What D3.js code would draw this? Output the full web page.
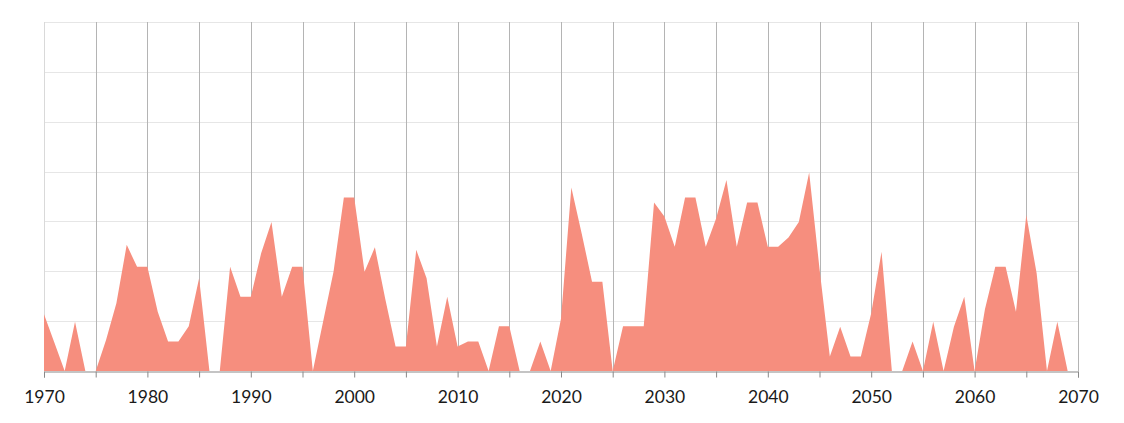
<!DOCTYPE html>
<html><head><meta charset="utf-8">
<script src="https://cdn.jsdelivr.net/npm/d3@7"></script>
<style>body{margin:0;background:#fff}svg{display:block}</style>
</head><body><svg id="c" width="1124" height="423"></svg>
<script>
const years = d3.range(1970, 2070);
const values = [
 1.14,0.57,0,0.99,0,0,0.62,1.36,2.53,2.09,
 2.09,1.19,0.59,0.59,0.90,1.86,0,0,2.09,1.49,
 1.49,2.36,2.99,1.49,2.09,2.09,0,1.0,1.99,3.48,
 3.48,1.99,2.48,1.45,0.49,0.49,2.43,1.86,0.49,1.49,
 0.49,0.59,0.59,0,0.9,0.9,0,0,0.59,0,
 1.05,3.68,2.76,1.79,1.79,0,0.9,0.9,0.9,3.38,
 3.10,2.49,3.48,3.48,2.49,3.06,3.83,2.49,3.38,3.38,
 2.49,2.49,2.68,2.99,3.98,2.05,0.29,0.89,0.29,0.29,
 1.16,2.39,0,0,0.59,0,0.99,0,0.89,1.49,
 0,1.24,2.09,2.09,1.19,3.13,1.96,0,0.99,0
];
const yTicks = [0,1,2,3,4,5,6,7];
const xMinorTicks = d3.range(1970, 2071, 5);

const svg = d3.select("#c");
const m = {l:44, r:46, t:22, b:52};
const W = 1124, H = 423;
const x = d3.scaleLinear().domain([1970, 2070]).range([m.l, W - m.r]);
const y = d3.scaleLinear().domain([0, 7]).range([H - m.b, m.t]);

// horizontal gridlines
svg.append("g").selectAll("line").data(yTicks.slice(1)).join("line")
  .attr("x1", x(1970)).attr("x2", x(2070))
  .attr("y1", d => Math.round(y(d)) + 0.5).attr("y2", d => Math.round(y(d)) + 0.5)
  .attr("stroke", "#e6e6e6").attr("stroke-width", 1);

// vertical gridlines
svg.append("g").selectAll("line").data(xMinorTicks).join("line")
  .attr("x1", d => Math.round(x(d)) + 0.5).attr("x2", d => Math.round(x(d)) + 0.5)
  .attr("y1", y(7)).attr("y2", y(0))
  .attr("stroke", d => d === 1970 ? "#d9d9d9" : "#b4b4b4").attr("stroke-width", 1);

// area
const area = d3.area()
  .x((d, i) => x(years[i]))
  .y0(y(0))
  .y1(d => y(d));
svg.append("path").datum(values)
  .attr("d", area)
  .attr("fill", "#f68e7e");

// x axis
const xAxis = d3.axisBottom(x).tickValues(xMinorTicks).tickSize(6)
  .tickFormat(d => d % 10 === 0 ? d : "");
const gx = svg.append("g").attr("transform", `translate(0,${Math.round(y(0)) + 0.5})`).call(xAxis);
gx.select(".domain").attr("stroke", "#898989");
gx.selectAll(".tick line").attr("stroke", "#898989");
gx.selectAll(".tick text")
  .attr("font-family", "Lato, 'Open Sans', sans-serif")
  .attr("font-size", 17.5).attr("fill", "#1a1a1a")
  .attr("y", 31.5).attr("dy", 0);
</script></body></html>
